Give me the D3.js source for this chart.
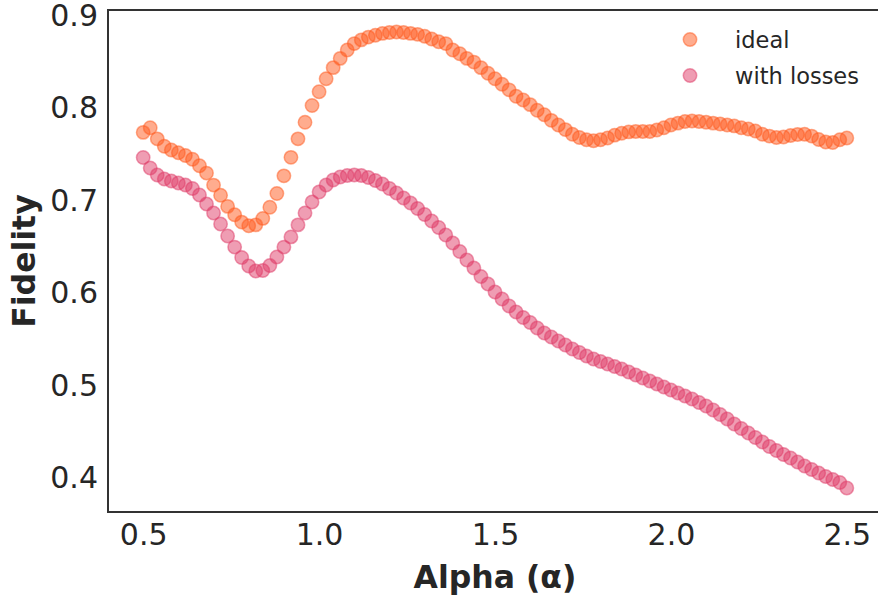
<!DOCTYPE html>
<html>
<head>
<meta charset="utf-8">
<script src="https://cdn.jsdelivr.net/npm/d3@7"></script>
<style>
  html, body { margin: 0; padding: 0; background: #fff; }
  svg { display: block; font-family: 'DejaVu Sans', sans-serif; }
</style>
</head>
<body>
<div id="chart"></div>
<script>
// alpha values 0.50 .. 2.50, step 0.02
const alphas = d3.range(101).map(i => +(0.5 + i * 0.02).toFixed(2))

const ideal = [
  0.772, 0.777, 0.765, 0.757, 0.753, 0.750, 0.747, 0.743, 0.736, 0.728,
  0.715, 0.704, 0.692, 0.683, 0.675, 0.671, 0.672, 0.679, 0.691, 0.706,
  0.725, 0.745, 0.765, 0.783, 0.801, 0.816, 0.830, 0.842, 0.852, 0.861,
  0.868, 0.872, 0.875, 0.877, 0.879, 0.880, 0.8805, 0.880, 0.879, 0.878,
  0.876, 0.873, 0.870, 0.868, 0.861, 0.857, 0.852, 0.848, 0.842, 0.836,
  0.830, 0.824, 0.818, 0.811, 0.807, 0.802, 0.796, 0.791, 0.785, 0.780,
  0.775, 0.770, 0.7665, 0.764, 0.763, 0.764, 0.766, 0.769, 0.771, 0.7725,
  0.773, 0.773, 0.773, 0.7745, 0.777, 0.780, 0.782, 0.7838, 0.7843, 0.7838,
  0.783, 0.782, 0.781, 0.780, 0.779, 0.777, 0.7757, 0.7735, 0.770, 0.768,
  0.7665, 0.767, 0.7686, 0.7697, 0.770, 0.768, 0.7643, 0.7616, 0.761, 0.764,
  0.766
]

const withLosses = [
  0.7449, 0.7335, 0.726, 0.7216, 0.7195, 0.7173, 0.7151, 0.7114, 0.7043, 0.6946,
  0.6849, 0.673, 0.660, 0.648, 0.6368, 0.6276, 0.6222, 0.6227, 0.6281, 0.6373,
  0.648, 0.659, 0.672, 0.6849, 0.6968, 0.7076, 0.7151, 0.7205, 0.7238, 0.7254,
  0.726, 0.7254, 0.7232, 0.720, 0.7162, 0.7114, 0.7065, 0.701, 0.6957, 0.6897,
  0.6832, 0.6762, 0.6692, 0.661, 0.6524, 0.6432, 0.634, 0.6254, 0.6162, 0.6081,
  0.5995, 0.5919, 0.5843, 0.5778, 0.5719, 0.5665, 0.5605, 0.5551, 0.5508, 0.5465,
  0.5422, 0.5378, 0.534, 0.5303, 0.527, 0.5243, 0.5216, 0.5189, 0.5162, 0.513,
  0.5097, 0.5065, 0.5032, 0.500, 0.4968, 0.4935, 0.4903, 0.487, 0.4838, 0.480,
  0.4762, 0.4719, 0.467, 0.4622, 0.4568, 0.4519, 0.447, 0.4422, 0.4373, 0.4324,
  0.4281, 0.4238, 0.420, 0.4157, 0.4114, 0.4076, 0.4038, 0.400, 0.3968, 0.3935,
  0.3876
]

const seriesNames = ['ideal', 'with losses']
const seriesColors = ['#ff5a1e', '#e03c68']
const xTicks = [0.5, 1.0, 1.5, 2.0, 2.5]
const yTicks = [0.4, 0.5, 0.6, 0.7, 0.8, 0.9]

const width = 878
const height = 597
const margin = { top: 10, right: -4, bottom: 85, left: 108 }

const svg = d3
  .select('#chart')
  .append('svg')
  .attr('width', width)
  .attr('height', height)

const x = d3
  .scaleLinear()
  .domain([0.4, 2.6])
  .range([margin.left, width - margin.right])

const y = d3
  .scaleLinear()
  .domain([0.3616, 0.9043])
  .range([height - margin.bottom, margin.top])

// axes, no tick marks (seaborn white look)
const xAxis = svg
  .append('g')
  .attr('transform', `translate(0,${height - margin.bottom})`)
  .call(d3.axisBottom(x).tickValues(xTicks).tickFormat(d3.format('.1f')).tickSize(0).tickPadding(11.5))
xAxis.select('.domain').remove()

const yAxis = svg
  .append('g')
  .attr('transform', `translate(${margin.left},0)`)
  .call(d3.axisLeft(y).tickValues(yTicks).tickFormat(d3.format('.1f')).tickSize(0).tickPadding(10))
yAxis.select('.domain').remove()
yAxis.selectAll('.tick text').attr('dy', '0.37em')

svg
  .selectAll('.tick text')
  .attr('font-family', 'DejaVu Sans')
  .attr('font-size', 30)
  .attr('fill', '#262626')

// frame
svg
  .append('rect')
  .attr('x', x.range()[0])
  .attr('y', y.range()[1])
  .attr('width', x.range()[1] - x.range()[0])
  .attr('height', y.range()[0] - y.range()[1])
  .attr('fill', 'none')
  .attr('stroke', '#333')
  .attr('stroke-width', 2)

// points
const allSeries = [ideal, withLosses]
allSeries.forEach((values, k) => {
  svg
    .append('g')
    .selectAll('circle')
    .data(values)
    .enter()
    .append('circle')
    .attr('cx', (d, i) => x(alphas[i]))
    .attr('cy', d => y(d))
    .attr('r', 6.7)
    .attr('fill', seriesColors[k])
    .attr('fill-opacity', 0.5)
    .attr('stroke', seriesColors[k])
    .attr('stroke-opacity', 0.5)
    .attr('stroke-width', 1.5)
})

// axis labels
svg
  .append('text')
  .attr('x', (x.range()[0] + x.range()[1]) / 2)
  .attr('y', 588)
  .attr('text-anchor', 'middle')
  .attr('font-size', 31.5)
  .attr('font-weight', 'bold')
  .attr('fill', '#262626')
  .text('Alpha (α)')

svg
  .append('text')
  .attr('transform', `translate(35,${(y.range()[0] + y.range()[1]) / 2}) rotate(-90)`)
  .attr('text-anchor', 'middle')
  .attr('font-size', 31.5)
  .attr('font-weight', 'bold')
  .attr('fill', '#262626')
  .text('Fidelity')

// legend
const legend = svg.append('g').attr('transform', 'translate(690,39.5)')
seriesNames.forEach((name, k) => {
  const row = legend.append('g').attr('transform', `translate(0,${k * 36})`)
  row
    .append('circle')
    .attr('r', 6.7)
    .attr('fill', seriesColors[k])
    .attr('fill-opacity', 0.5)
    .attr('stroke', seriesColors[k])
    .attr('stroke-opacity', 0.5)
    .attr('stroke-width', 1.5)
  row
    .append('text')
    .attr('x', 45)
    .attr('y', 8.5)
    .attr('font-size', 22.5)
    .attr('fill', '#262626')
    .text(name)
})
</script>
</body>
</html>
